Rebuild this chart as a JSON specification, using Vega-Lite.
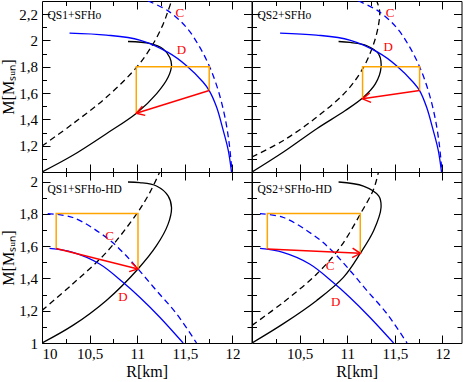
{
"$schema": "https://vega.github.io/schema/vega-lite/v6.json",
"padding": {"left": 0, "top": 0, "right": 1, "bottom": 2},
"spacing": 0,
"bounds": "flush",
"columns": 2,
"config": {
  "view": {"stroke": "black", "strokeWidth": 1},
  "axis": {"labelFont": "Liberation Serif", "labelFontSize": 15, "labelColor": "black", "titleFont": "Liberation Serif", "titleFontSize": 16, "titleFontWeight": "normal", "titleColor": "black", "tickColor": "black", "tickWidth": 1, "grid": false, "domain": false},
  "text": {"font": "Liberation Serif", "fontWeight": "normal"}
},
"datasets": {
  "curves": [
    {"p":"TL","c":"bs","i":0,"R":10.0,"M":1.0},{"p":"TL","c":"bs","i":1,"R":10.324,"M":1.127},{"p":"TL","c":"bs","i":2,"R":10.676,"M":1.291},{"p":"TL","c":"bs","i":3,"R":10.992,"M":1.447},{"p":"TL","c":"bs","i":4,"R":11.202,"M":1.594},{"p":"TL","c":"bs","i":5,"R":11.324,"M":1.72},{"p":"TL","c":"bs","i":6,"R":11.36,"M":1.808},{"p":"TL","c":"bs","i":7,"R":11.342,"M":1.871},{"p":"TL","c":"bs","i":8,"R":11.272,"M":1.935},{"p":"TL","c":"bs","i":9,"R":11.132,"M":1.977},{"p":"TL","c":"bs","i":10,"R":10.903,"M":1.992},
    {"p":"TL","c":"bd","i":0,"R":10.0,"M":1.197},{"p":"TL","c":"bd","i":1,"R":10.324,"M":1.367},{"p":"TL","c":"bd","i":2,"R":10.676,"M":1.568},{"p":"TL","c":"bd","i":3,"R":10.992,"M":1.795},{"p":"TL","c":"bd","i":4,"R":11.166,"M":1.973},{"p":"TL","c":"bd","i":5,"R":11.272,"M":2.124},{"p":"TL","c":"bd","i":6,"R":11.324,"M":2.225},{"p":"TL","c":"bd","i":7,"R":11.36,"M":2.3},
    {"p":"TL","c":"ls","i":0,"R":10.289,"M":2.056},{"p":"TL","c":"ls","i":1,"R":10.676,"M":2.041},{"p":"TL","c":"ls","i":2,"R":11.026,"M":2.003},{"p":"TL","c":"ls","i":3,"R":11.324,"M":1.909},{"p":"TL","c":"ls","i":4,"R":11.518,"M":1.808},{"p":"TL","c":"ls","i":5,"R":11.693,"M":1.682},{"p":"TL","c":"ls","i":6,"R":11.756,"M":1.619},{"p":"TL","c":"ls","i":7,"R":11.834,"M":1.492},{"p":"TL","c":"ls","i":8,"R":11.903,"M":1.316},{"p":"TL","c":"ls","i":9,"R":11.956,"M":1.164},{"p":"TL","c":"ls","i":10,"R":11.99,"M":1.0},
    {"p":"TL","c":"ld","i":0,"R":11.114,"M":2.3},{"p":"TL","c":"ld","i":1,"R":11.324,"M":2.225},{"p":"TL","c":"ld","i":2,"R":11.518,"M":2.098},{"p":"TL","c":"ld","i":3,"R":11.658,"M":1.947},{"p":"TL","c":"ld","i":4,"R":11.763,"M":1.795},{"p":"TL","c":"ld","i":5,"R":11.851,"M":1.619},{"p":"TL","c":"ld","i":6,"R":11.921,"M":1.417},{"p":"TL","c":"ld","i":7,"R":11.966,"M":1.215},{"p":"TL","c":"ld","i":8,"R":11.995,"M":1.0},
    {"p":"TL","c":"or","i":0,"R":10.99,"M":1.447},{"p":"TL","c":"or","i":1,"R":10.99,"M":1.8},{"p":"TL","c":"or","i":2,"R":11.756,"M":1.8},{"p":"TL","c":"or","i":3,"R":11.756,"M":1.619},

    {"p":"TR","c":"bs","i":0,"R":10.0,"M":1.0},{"p":"TR","c":"bs","i":1,"R":10.33,"M":1.152},{"p":"TR","c":"bs","i":2,"R":10.68,"M":1.329},{"p":"TR","c":"bs","i":3,"R":10.98,"M":1.467},{"p":"TR","c":"bs","i":4,"R":11.17,"M":1.568},{"p":"TR","c":"bs","i":5,"R":11.295,"M":1.67},{"p":"TR","c":"bs","i":6,"R":11.355,"M":1.795},{"p":"TR","c":"bs","i":7,"R":11.33,"M":1.897},{"p":"TR","c":"bs","i":8,"R":11.207,"M":1.96},{"p":"TR","c":"bs","i":9,"R":11.03,"M":1.985},{"p":"TR","c":"bs","i":10,"R":10.909,"M":1.992},
    {"p":"TR","c":"bd","i":0,"R":10.0,"M":1.114},{"p":"TR","c":"bd","i":1,"R":10.33,"M":1.24},{"p":"TR","c":"bd","i":2,"R":10.68,"M":1.417},{"p":"TR","c":"bd","i":3,"R":10.997,"M":1.619},{"p":"TR","c":"bd","i":4,"R":11.17,"M":1.795},{"p":"TR","c":"bd","i":5,"R":11.277,"M":1.973},{"p":"TR","c":"bd","i":6,"R":11.33,"M":2.124},{"p":"TR","c":"bd","i":7,"R":11.34,"M":2.225},{"p":"TR","c":"bd","i":8,"R":11.31,"M":2.3},
    {"p":"TR","c":"ls","i":0,"R":10.295,"M":2.056},{"p":"TR","c":"ls","i":1,"R":10.676,"M":2.041},{"p":"TR","c":"ls","i":2,"R":11.026,"M":2.003},{"p":"TR","c":"ls","i":3,"R":11.324,"M":1.909},{"p":"TR","c":"ls","i":4,"R":11.518,"M":1.808},{"p":"TR","c":"ls","i":5,"R":11.693,"M":1.682},{"p":"TR","c":"ls","i":6,"R":11.76,"M":1.619},{"p":"TR","c":"ls","i":7,"R":11.834,"M":1.492},{"p":"TR","c":"ls","i":8,"R":11.903,"M":1.316},{"p":"TR","c":"ls","i":9,"R":11.956,"M":1.164},{"p":"TR","c":"ls","i":10,"R":11.99,"M":1.0},
    {"p":"TR","c":"ld","i":0,"R":11.118,"M":2.3},{"p":"TR","c":"ld","i":1,"R":11.324,"M":2.225},{"p":"TR","c":"ld","i":2,"R":11.518,"M":2.098},{"p":"TR","c":"ld","i":3,"R":11.658,"M":1.947},{"p":"TR","c":"ld","i":4,"R":11.763,"M":1.795},{"p":"TR","c":"ld","i":5,"R":11.851,"M":1.619},{"p":"TR","c":"ld","i":6,"R":11.921,"M":1.417},{"p":"TR","c":"ld","i":7,"R":11.966,"M":1.215},{"p":"TR","c":"ld","i":8,"R":11.995,"M":1.0},
    {"p":"TR","c":"or","i":0,"R":11.161,"M":1.556},{"p":"TR","c":"or","i":1,"R":11.161,"M":1.8},{"p":"TR","c":"or","i":2,"R":11.76,"M":1.8},{"p":"TR","c":"or","i":3,"R":11.76,"M":1.619},

    {"p":"BL","c":"bs","i":0,"R":10.0,"M":1.0},{"p":"BL","c":"bs","i":1,"R":10.324,"M":1.109},{"p":"BL","c":"bs","i":2,"R":10.676,"M":1.264},{"p":"BL","c":"bs","i":3,"R":11.008,"M":1.459},{"p":"BL","c":"bs","i":4,"R":11.202,"M":1.603},{"p":"BL","c":"bs","i":5,"R":11.324,"M":1.737},{"p":"BL","c":"bs","i":6,"R":11.36,"M":1.84},{"p":"BL","c":"bs","i":7,"R":11.324,"M":1.912},{"p":"BL","c":"bs","i":8,"R":11.202,"M":1.973},{"p":"BL","c":"bs","i":9,"R":11.026,"M":1.994},{"p":"BL","c":"bs","i":10,"R":10.903,"M":1.998},
    {"p":"BL","c":"bd","i":0,"R":10.0,"M":1.202},{"p":"BL","c":"bd","i":1,"R":10.324,"M":1.367},{"p":"BL","c":"bd","i":2,"R":10.676,"M":1.562},{"p":"BL","c":"bd","i":3,"R":10.992,"M":1.799},{"p":"BL","c":"bd","i":4,"R":11.132,"M":1.932},{"p":"BL","c":"bd","i":5,"R":11.24,"M":2.065},
    {"p":"BL","c":"ls","i":0,"R":10.079,"M":1.586},{"p":"BL","c":"ls","i":1,"R":10.324,"M":1.562},{"p":"BL","c":"ls","i":2,"R":10.605,"M":1.49},{"p":"BL","c":"ls","i":3,"R":10.85,"M":1.377},{"p":"BL","c":"ls","i":4,"R":11.026,"M":1.284},{"p":"BL","c":"ls","i":5,"R":11.237,"M":1.16},{"p":"BL","c":"ls","i":6,"R":11.482,"M":1.0},
    {"p":"BL","c":"ld","i":0,"R":10.06,"M":1.802},{"p":"BL","c":"ld","i":1,"R":10.324,"M":1.778},{"p":"BL","c":"ld","i":2,"R":10.676,"M":1.654},{"p":"BL","c":"ld","i":3,"R":10.85,"M":1.562},{"p":"BL","c":"ld","i":4,"R":11.008,"M":1.459},{"p":"BL","c":"ld","i":5,"R":11.202,"M":1.325},{"p":"BL","c":"ld","i":6,"R":11.413,"M":1.181},{"p":"BL","c":"ld","i":7,"R":11.623,"M":1.0},
    {"p":"BL","c":"or","i":0,"R":10.149,"M":1.586},{"p":"BL","c":"or","i":1,"R":10.149,"M":1.802},{"p":"BL","c":"or","i":2,"R":11.008,"M":1.802},{"p":"BL","c":"or","i":3,"R":11.008,"M":1.459},

    {"p":"BR","c":"bs","i":0,"R":10.0,"M":1.0},{"p":"BR","c":"bs","i":1,"R":10.33,"M":1.12},{"p":"BR","c":"bs","i":2,"R":10.68,"M":1.264},{"p":"BR","c":"bs","i":3,"R":10.96,"M":1.407},{"p":"BR","c":"bs","i":4,"R":11.137,"M":1.556},{"p":"BR","c":"bs","i":5,"R":11.277,"M":1.696},{"p":"BR","c":"bs","i":6,"R":11.355,"M":1.84},{"p":"BR","c":"bs","i":7,"R":11.33,"M":1.912},{"p":"BR","c":"bs","i":8,"R":11.17,"M":1.973},{"p":"BR","c":"bs","i":9,"R":10.909,"M":1.998},
    {"p":"BR","c":"bd","i":0,"R":10.0,"M":1.109},{"p":"BR","c":"bd","i":1,"R":10.33,"M":1.253},{"p":"BR","c":"bd","i":2,"R":10.68,"M":1.428},{"p":"BR","c":"bd","i":3,"R":10.926,"M":1.593},{"p":"BR","c":"bd","i":4,"R":11.137,"M":1.799},{"p":"BR","c":"bd","i":5,"R":11.277,"M":1.953},{"p":"BR","c":"bd","i":6,"R":11.33,"M":2.065},
    {"p":"BR","c":"ls","i":0,"R":10.084,"M":1.586},{"p":"BR","c":"ls","i":1,"R":10.324,"M":1.562},{"p":"BR","c":"ls","i":2,"R":10.605,"M":1.49},{"p":"BR","c":"ls","i":3,"R":10.85,"M":1.377},{"p":"BR","c":"ls","i":4,"R":11.026,"M":1.284},{"p":"BR","c":"ls","i":5,"R":11.237,"M":1.16},{"p":"BR","c":"ls","i":6,"R":11.487,"M":1.0},
    {"p":"BR","c":"ld","i":0,"R":10.084,"M":1.802},{"p":"BR","c":"ld","i":1,"R":10.33,"M":1.778},{"p":"BR","c":"ld","i":2,"R":10.68,"M":1.654},{"p":"BR","c":"ld","i":3,"R":10.856,"M":1.562},{"p":"BR","c":"ld","i":4,"R":11.03,"M":1.449},{"p":"BR","c":"ld","i":5,"R":11.207,"M":1.325},{"p":"BR","c":"ld","i":6,"R":11.418,"M":1.181},{"p":"BR","c":"ld","i":7,"R":11.628,"M":1.0},
    {"p":"BR","c":"or","i":0,"R":10.161,"M":1.583},{"p":"BR","c":"or","i":1,"R":10.161,"M":1.802},{"p":"BR","c":"or","i":2,"R":11.137,"M":1.802},{"p":"BR","c":"or","i":3,"R":11.137,"M":1.556}
  ],
  "arrows": [
    {"p":"TL","i":0,"R":11.756,"M":1.619},{"p":"TL","i":1,"R":10.99,"M":1.447},
    {"p":"TR","i":0,"R":11.76,"M":1.619},{"p":"TR","i":1,"R":11.161,"M":1.556},
    {"p":"BL","i":0,"R":10.149,"M":1.586},{"p":"BL","i":1,"R":11.008,"M":1.459},
    {"p":"BR","i":0,"R":10.161,"M":1.583},{"p":"BR","i":1,"R":11.137,"M":1.556}
  ],
  "notes": [
    {"p":"TL","k":"cd","t":"C","R":11.447,"M":2.205},{"p":"TL","k":"cd","t":"D","R":11.465,"M":1.927},{"p":"TL","k":"title","t":"QS1+SFHo","R":10.058,"M":2.183},
    {"p":"TR","k":"cd","t":"C","R":11.45,"M":2.205},{"p":"TR","k":"cd","t":"D","R":11.43,"M":1.952},{"p":"TR","k":"title","t":"QS2+SFHo","R":10.058,"M":2.183},
    {"p":"BL","k":"cd","t":"C","R":10.71,"M":1.665},{"p":"BL","k":"cd","t":"D","R":10.85,"M":1.288},{"p":"BL","k":"title","t":"QS1+SFHo-HD","R":10.058,"M":1.949},
    {"p":"BR","k":"cd","t":"C","R":10.82,"M":1.48},{"p":"BR","k":"cd","t":"D","R":10.88,"M":1.257},{"p":"BR","k":"title","t":"QS2+SFHo-HD","R":10.058,"M":1.949}
  ]
},
"concat": [
  {"width": 209.5, "height": 171,
   "resolve": {"axis": {"x": "independent", "y": "independent"}},
   "layer": [
    {"data": {"name": "curves"}, "transform": [{"filter": "datum.p=='TL' && datum.c=='bs'"}],
     "mark": {"type": "line", "color": "black", "strokeWidth": 1.3, "interpolate": "catmull-rom", "clip": true},
     "encoding": {"order": {"field": "i"},
      "x": {"field": "R", "type": "quantitative", "scale": {"domain": [10, 12.2], "nice": false, "zero": false}, "axis": {"orient": "bottom", "values": [10.5, 11, 11.5, 12], "tickSize": -8, "labels": false, "title": null}},
      "y": {"field": "M", "type": "quantitative", "scale": {"domain": [1, 2.3], "nice": false, "zero": false}, "axis": {"orient": "left", "values": [1.2, 1.4, 1.6, 1.8, 2, 2.2], "tickSize": -8, "labelPadding": 12.5, "labelExpr": "replace(format(datum.value,'~g'),'.',',')", "title": "M[Mₛᵤₙ]", "titlePadding": 2}}}},
    {"data": {"name": "curves"}, "transform": [{"filter": "datum.p=='TL' && datum.c=='bd'"}],
     "mark": {"type": "line", "color": "black", "strokeWidth": 1.3, "strokeDash": [6, 4], "interpolate": "catmull-rom", "clip": true},
     "encoding": {"order": {"field": "i"},
      "x": {"field": "R", "type": "quantitative", "scale": {"domain": [10, 12.2], "nice": false, "zero": false}, "axis": {"orient": "bottom", "values": [10.25, 10.75, 11.25, 11.75], "tickSize": -4.5, "labels": false, "title": null}},
      "y": {"field": "M", "type": "quantitative", "scale": {"domain": [1, 2.3], "nice": false, "zero": false}, "axis": {"orient": "left", "values": [1.1, 1.3, 1.5, 1.7, 1.9, 2.1], "tickSize": -4.5, "labels": false, "title": null}}}},
    {"data": {"name": "curves"}, "transform": [{"filter": "datum.p=='TL' && datum.c=='ls'"}],
     "mark": {"type": "line", "color": "blue", "strokeWidth": 1.3, "interpolate": "catmull-rom", "clip": true},
     "encoding": {"order": {"field": "i"},
      "x": {"field": "R", "type": "quantitative", "scale": {"domain": [10, 12.2], "nice": false, "zero": false}, "axis": {"orient": "top", "values": [10.5, 11, 11.5, 12], "tickSize": -8, "labels": false, "title": null}},
      "y": {"field": "M", "type": "quantitative", "scale": {"domain": [1, 2.3], "nice": false, "zero": false}, "axis": {"orient": "right", "values": [1.2, 1.4, 1.6, 1.8, 2, 2.2], "tickSize": -8, "labels": false, "title": null}}}},
    {"data": {"name": "curves"}, "transform": [{"filter": "datum.p=='TL' && datum.c=='ld'"}],
     "mark": {"type": "line", "color": "blue", "strokeWidth": 1.3, "strokeDash": [6, 4], "interpolate": "catmull-rom", "clip": true},
     "encoding": {"order": {"field": "i"},
      "x": {"field": "R", "type": "quantitative", "scale": {"domain": [10, 12.2], "nice": false, "zero": false}, "axis": {"orient": "top", "values": [10.25, 10.75, 11.25, 11.75], "tickSize": -4.5, "labels": false, "title": null}},
      "y": {"field": "M", "type": "quantitative", "scale": {"domain": [1, 2.3], "nice": false, "zero": false}, "axis": {"orient": "right", "values": [1.1, 1.3, 1.5, 1.7, 1.9, 2.1], "tickSize": -4.5, "labels": false, "title": null}}}},
    {"data": {"name": "curves"}, "transform": [{"filter": "datum.p=='TL' && datum.c=='or'"}],
     "mark": {"type": "line", "color": "orange", "strokeWidth": 1.5, "clip": true},
     "encoding": {"order": {"field": "i"},
      "x": {"field": "R", "type": "quantitative", "scale": {"domain": [10, 12.2], "nice": false, "zero": false}, "axis": null},
      "y": {"field": "M", "type": "quantitative", "scale": {"domain": [1, 2.3], "nice": false, "zero": false}, "axis": null}}},
    {"data": {"name": "arrows"}, "transform": [{"filter": "datum.p=='TL'"}],
     "mark": {"type": "line", "color": "red", "strokeWidth": 1.5},
     "encoding": {"order": {"field": "i"},
      "x": {"field": "R", "type": "quantitative", "scale": {"domain": [10, 12.2], "nice": false, "zero": false}, "axis": null},
      "y": {"field": "M", "type": "quantitative", "scale": {"domain": [1, 2.3], "nice": false, "zero": false}, "axis": null}}},
    {"data": {"name": "arrows"}, "transform": [{"filter": "datum.p=='TL' && datum.i==1"}],
     "mark": {"type": "point", "shape": "M-1,-0.6L0,0L-1,0.6", "filled": false, "color": "red", "strokeWidth": 1.5, "size": 250, "angle": 162.6, "opacity": 1},
     "encoding": {
      "x": {"field": "R", "type": "quantitative", "scale": {"domain": [10, 12.2], "nice": false, "zero": false}, "axis": null},
      "y": {"field": "M", "type": "quantitative", "scale": {"domain": [1, 2.3], "nice": false, "zero": false}, "axis": null}}},
    {"data": {"name": "notes"}, "transform": [{"filter": "datum.p=='TL' && datum.k=='cd'"}],
     "mark": {"type": "text", "color": "red", "font": "Liberation Serif", "fontSize": 13, "align": "center", "baseline": "middle"},
     "encoding": {"text": {"field": "t"},
      "x": {"field": "R", "type": "quantitative", "scale": {"domain": [10, 12.2], "nice": false, "zero": false}, "axis": null},
      "y": {"field": "M", "type": "quantitative", "scale": {"domain": [1, 2.3], "nice": false, "zero": false}, "axis": null}}},
    {"data": {"name": "notes"}, "transform": [{"filter": "datum.p=='TL' && datum.k=='title'"}],
     "mark": {"type": "text", "color": "black", "font": "Liberation Serif", "fontWeight": "normal", "fontSize": 11.5, "align": "left", "baseline": "middle"},
     "encoding": {"text": {"field": "t"},
      "x": {"field": "R", "type": "quantitative", "scale": {"domain": [10, 12.2], "nice": false, "zero": false}, "axis": null},
      "y": {"field": "M", "type": "quantitative", "scale": {"domain": [1, 2.3], "nice": false, "zero": false}, "axis": null}}}
   ]},
  {"width": 209.5, "height": 171,
   "resolve": {"axis": {"x": "independent", "y": "independent"}},
   "layer": [
    {"data": {"name": "curves"}, "transform": [{"filter": "datum.p=='TR' && datum.c=='bs'"}],
     "mark": {"type": "line", "color": "black", "strokeWidth": 1.3, "interpolate": "catmull-rom", "clip": true},
     "encoding": {"order": {"field": "i"},
      "x": {"field": "R", "type": "quantitative", "scale": {"domain": [10, 12.2], "nice": false, "zero": false}, "axis": {"orient": "bottom", "values": [10.5, 11, 11.5, 12], "tickSize": -8, "labels": false, "title": null}},
      "y": {"field": "M", "type": "quantitative", "scale": {"domain": [1, 2.3], "nice": false, "zero": false}, "axis": {"orient": "left", "values": [1.2, 1.4, 1.6, 1.8, 2, 2.2], "tickSize": -8, "labels": false, "title": null}}}},
    {"data": {"name": "curves"}, "transform": [{"filter": "datum.p=='TR' && datum.c=='bd'"}],
     "mark": {"type": "line", "color": "black", "strokeWidth": 1.3, "strokeDash": [6, 4], "interpolate": "catmull-rom", "clip": true},
     "encoding": {"order": {"field": "i"},
      "x": {"field": "R", "type": "quantitative", "scale": {"domain": [10, 12.2], "nice": false, "zero": false}, "axis": {"orient": "bottom", "values": [10.25, 10.75, 11.25, 11.75], "tickSize": -4.5, "labels": false, "title": null}},
      "y": {"field": "M", "type": "quantitative", "scale": {"domain": [1, 2.3], "nice": false, "zero": false}, "axis": {"orient": "left", "values": [1.1, 1.3, 1.5, 1.7, 1.9, 2.1], "tickSize": -4.5, "labels": false, "title": null}}}},
    {"data": {"name": "curves"}, "transform": [{"filter": "datum.p=='TR' && datum.c=='ls'"}],
     "mark": {"type": "line", "color": "blue", "strokeWidth": 1.3, "interpolate": "catmull-rom", "clip": true},
     "encoding": {"order": {"field": "i"},
      "x": {"field": "R", "type": "quantitative", "scale": {"domain": [10, 12.2], "nice": false, "zero": false}, "axis": {"orient": "top", "values": [10.5, 11, 11.5, 12], "tickSize": -8, "labels": false, "title": null}},
      "y": {"field": "M", "type": "quantitative", "scale": {"domain": [1, 2.3], "nice": false, "zero": false}, "axis": {"orient": "right", "values": [1.2, 1.4, 1.6, 1.8, 2, 2.2], "tickSize": -8, "labels": false, "title": null}}}},
    {"data": {"name": "curves"}, "transform": [{"filter": "datum.p=='TR' && datum.c=='ld'"}],
     "mark": {"type": "line", "color": "blue", "strokeWidth": 1.3, "strokeDash": [6, 4], "interpolate": "catmull-rom", "clip": true},
     "encoding": {"order": {"field": "i"},
      "x": {"field": "R", "type": "quantitative", "scale": {"domain": [10, 12.2], "nice": false, "zero": false}, "axis": {"orient": "top", "values": [10.25, 10.75, 11.25, 11.75], "tickSize": -4.5, "labels": false, "title": null}},
      "y": {"field": "M", "type": "quantitative", "scale": {"domain": [1, 2.3], "nice": false, "zero": false}, "axis": {"orient": "right", "values": [1.1, 1.3, 1.5, 1.7, 1.9, 2.1], "tickSize": -4.5, "labels": false, "title": null}}}},
    {"data": {"name": "curves"}, "transform": [{"filter": "datum.p=='TR' && datum.c=='or'"}],
     "mark": {"type": "line", "color": "orange", "strokeWidth": 1.5, "clip": true},
     "encoding": {"order": {"field": "i"},
      "x": {"field": "R", "type": "quantitative", "scale": {"domain": [10, 12.2], "nice": false, "zero": false}, "axis": null},
      "y": {"field": "M", "type": "quantitative", "scale": {"domain": [1, 2.3], "nice": false, "zero": false}, "axis": null}}},
    {"data": {"name": "arrows"}, "transform": [{"filter": "datum.p=='TR'"}],
     "mark": {"type": "line", "color": "red", "strokeWidth": 1.5},
     "encoding": {"order": {"field": "i"},
      "x": {"field": "R", "type": "quantitative", "scale": {"domain": [10, 12.2], "nice": false, "zero": false}, "axis": null},
      "y": {"field": "M", "type": "quantitative", "scale": {"domain": [1, 2.3], "nice": false, "zero": false}, "axis": null}}},
    {"data": {"name": "arrows"}, "transform": [{"filter": "datum.p=='TR' && datum.i==1"}],
     "mark": {"type": "point", "shape": "M-1,-0.6L0,0L-1,0.6", "filled": false, "color": "red", "strokeWidth": 1.5, "size": 250, "angle": 171.7, "opacity": 1},
     "encoding": {
      "x": {"field": "R", "type": "quantitative", "scale": {"domain": [10, 12.2], "nice": false, "zero": false}, "axis": null},
      "y": {"field": "M", "type": "quantitative", "scale": {"domain": [1, 2.3], "nice": false, "zero": false}, "axis": null}}},
    {"data": {"name": "notes"}, "transform": [{"filter": "datum.p=='TR' && datum.k=='cd'"}],
     "mark": {"type": "text", "color": "red", "font": "Liberation Serif", "fontSize": 13, "align": "center", "baseline": "middle"},
     "encoding": {"text": {"field": "t"},
      "x": {"field": "R", "type": "quantitative", "scale": {"domain": [10, 12.2], "nice": false, "zero": false}, "axis": null},
      "y": {"field": "M", "type": "quantitative", "scale": {"domain": [1, 2.3], "nice": false, "zero": false}, "axis": null}}},
    {"data": {"name": "notes"}, "transform": [{"filter": "datum.p=='TR' && datum.k=='title'"}],
     "mark": {"type": "text", "color": "black", "font": "Liberation Serif", "fontWeight": "normal", "fontSize": 11.5, "align": "left", "baseline": "middle"},
     "encoding": {"text": {"field": "t"},
      "x": {"field": "R", "type": "quantitative", "scale": {"domain": [10, 12.2], "nice": false, "zero": false}, "axis": null},
      "y": {"field": "M", "type": "quantitative", "scale": {"domain": [1, 2.3], "nice": false, "zero": false}, "axis": null}}}
   ]},
  {"width": 209.5, "height": 171,
   "resolve": {"axis": {"x": "independent", "y": "independent"}},
   "layer": [
    {"data": {"name": "curves"}, "transform": [{"filter": "datum.p=='BL' && datum.c=='bs'"}],
     "mark": {"type": "line", "color": "black", "strokeWidth": 1.3, "interpolate": "catmull-rom", "clip": true},
     "encoding": {"order": {"field": "i"},
      "x": {"field": "R", "type": "quantitative", "scale": {"domain": [10, 12.2], "nice": false, "zero": false}, "axis": {"orient": "bottom", "values": [10, 10.5, 11, 11.5, 12], "tickSize": -8, "labelPadding": 11, "labelExpr": "replace(format(datum.value,'~g'),'.',',')", "title": "R[km]", "titlePadding": 2}},
      "y": {"field": "M", "type": "quantitative", "scale": {"domain": [1, 2.06], "nice": false, "zero": false}, "axis": {"orient": "left", "values": [1, 1.2, 1.4, 1.6, 1.8, 2], "tickSize": -8, "labelPadding": 12.5, "labelExpr": "replace(format(datum.value,'~g'),'.',',')", "title": "M[Mₛᵤₙ]", "titlePadding": 2}}}},
    {"data": {"name": "curves"}, "transform": [{"filter": "datum.p=='BL' && datum.c=='bd'"}],
     "mark": {"type": "line", "color": "black", "strokeWidth": 1.3, "strokeDash": [6, 4], "interpolate": "catmull-rom", "clip": true},
     "encoding": {"order": {"field": "i"},
      "x": {"field": "R", "type": "quantitative", "scale": {"domain": [10, 12.2], "nice": false, "zero": false}, "axis": {"orient": "bottom", "values": [10.25, 10.75, 11.25, 11.75], "tickSize": -4.5, "labels": false, "title": null}},
      "y": {"field": "M", "type": "quantitative", "scale": {"domain": [1, 2.06], "nice": false, "zero": false}, "axis": {"orient": "left", "values": [1.1, 1.3, 1.5, 1.7, 1.9], "tickSize": -4.5, "labels": false, "title": null}}}},
    {"data": {"name": "curves"}, "transform": [{"filter": "datum.p=='BL' && datum.c=='ls'"}],
     "mark": {"type": "line", "color": "blue", "strokeWidth": 1.3, "interpolate": "catmull-rom", "clip": true},
     "encoding": {"order": {"field": "i"},
      "x": {"field": "R", "type": "quantitative", "scale": {"domain": [10, 12.2], "nice": false, "zero": false}, "axis": {"orient": "top", "values": [10.5, 11, 11.5, 12], "tickSize": -8, "labels": false, "title": null}},
      "y": {"field": "M", "type": "quantitative", "scale": {"domain": [1, 2.06], "nice": false, "zero": false}, "axis": {"orient": "right", "values": [1.2, 1.4, 1.6, 1.8, 2], "tickSize": -8, "labels": false, "title": null}}}},
    {"data": {"name": "curves"}, "transform": [{"filter": "datum.p=='BL' && datum.c=='ld'"}],
     "mark": {"type": "line", "color": "blue", "strokeWidth": 1.3, "strokeDash": [6, 4], "interpolate": "catmull-rom", "clip": true},
     "encoding": {"order": {"field": "i"},
      "x": {"field": "R", "type": "quantitative", "scale": {"domain": [10, 12.2], "nice": false, "zero": false}, "axis": {"orient": "top", "values": [10.25, 10.75, 11.25, 11.75], "tickSize": -4.5, "labels": false, "title": null}},
      "y": {"field": "M", "type": "quantitative", "scale": {"domain": [1, 2.06], "nice": false, "zero": false}, "axis": {"orient": "right", "values": [1.1, 1.3, 1.5, 1.7, 1.9], "tickSize": -4.5, "labels": false, "title": null}}}},
    {"data": {"name": "curves"}, "transform": [{"filter": "datum.p=='BL' && datum.c=='or'"}],
     "mark": {"type": "line", "color": "orange", "strokeWidth": 1.5, "clip": true},
     "encoding": {"order": {"field": "i"},
      "x": {"field": "R", "type": "quantitative", "scale": {"domain": [10, 12.2], "nice": false, "zero": false}, "axis": null},
      "y": {"field": "M", "type": "quantitative", "scale": {"domain": [1, 2.06], "nice": false, "zero": false}, "axis": null}}},
    {"data": {"name": "arrows"}, "transform": [{"filter": "datum.p=='BL'"}],
     "mark": {"type": "line", "color": "red", "strokeWidth": 1.5},
     "encoding": {"order": {"field": "i"},
      "x": {"field": "R", "type": "quantitative", "scale": {"domain": [10, 12.2], "nice": false, "zero": false}, "axis": null},
      "y": {"field": "M", "type": "quantitative", "scale": {"domain": [1, 2.06], "nice": false, "zero": false}, "axis": null}}},
    {"data": {"name": "arrows"}, "transform": [{"filter": "datum.p=='BL' && datum.i==1"}],
     "mark": {"type": "point", "shape": "M-1,-0.6L0,0L-1,0.6", "filled": false, "color": "red", "strokeWidth": 1.5, "size": 250, "angle": 14.2, "opacity": 1},
     "encoding": {
      "x": {"field": "R", "type": "quantitative", "scale": {"domain": [10, 12.2], "nice": false, "zero": false}, "axis": null},
      "y": {"field": "M", "type": "quantitative", "scale": {"domain": [1, 2.06], "nice": false, "zero": false}, "axis": null}}},
    {"data": {"name": "notes"}, "transform": [{"filter": "datum.p=='BL' && datum.k=='cd'"}],
     "mark": {"type": "text", "color": "red", "font": "Liberation Serif", "fontSize": 13, "align": "center", "baseline": "middle"},
     "encoding": {"text": {"field": "t"},
      "x": {"field": "R", "type": "quantitative", "scale": {"domain": [10, 12.2], "nice": false, "zero": false}, "axis": null},
      "y": {"field": "M", "type": "quantitative", "scale": {"domain": [1, 2.06], "nice": false, "zero": false}, "axis": null}}},
    {"data": {"name": "notes"}, "transform": [{"filter": "datum.p=='BL' && datum.k=='title'"}],
     "mark": {"type": "text", "color": "black", "font": "Liberation Serif", "fontWeight": "normal", "fontSize": 11.5, "align": "left", "baseline": "middle"},
     "encoding": {"text": {"field": "t"},
      "x": {"field": "R", "type": "quantitative", "scale": {"domain": [10, 12.2], "nice": false, "zero": false}, "axis": null},
      "y": {"field": "M", "type": "quantitative", "scale": {"domain": [1, 2.06], "nice": false, "zero": false}, "axis": null}}}
   ]},
  {"width": 209.5, "height": 171,
   "resolve": {"axis": {"x": "independent", "y": "independent"}},
   "layer": [
    {"data": {"name": "curves"}, "transform": [{"filter": "datum.p=='BR' && datum.c=='bs'"}],
     "mark": {"type": "line", "color": "black", "strokeWidth": 1.3, "interpolate": "catmull-rom", "clip": true},
     "encoding": {"order": {"field": "i"},
      "x": {"field": "R", "type": "quantitative", "scale": {"domain": [10, 12.2], "nice": false, "zero": false}, "axis": {"orient": "bottom", "values": [10.5, 11, 11.5, 12], "tickSize": -8, "labelPadding": 11, "labelExpr": "replace(format(datum.value,'~g'),'.',',')", "title": "R[km]", "titlePadding": 2}},
      "y": {"field": "M", "type": "quantitative", "scale": {"domain": [1, 2.06], "nice": false, "zero": false}, "axis": {"orient": "left", "values": [1.2, 1.4, 1.6, 1.8, 2], "tickSize": -8, "labels": false, "title": null}}}},
    {"data": {"name": "curves"}, "transform": [{"filter": "datum.p=='BR' && datum.c=='bd'"}],
     "mark": {"type": "line", "color": "black", "strokeWidth": 1.3, "strokeDash": [6, 4], "interpolate": "catmull-rom", "clip": true},
     "encoding": {"order": {"field": "i"},
      "x": {"field": "R", "type": "quantitative", "scale": {"domain": [10, 12.2], "nice": false, "zero": false}, "axis": {"orient": "bottom", "values": [10.25, 10.75, 11.25, 11.75], "tickSize": -4.5, "labels": false, "title": null}},
      "y": {"field": "M", "type": "quantitative", "scale": {"domain": [1, 2.06], "nice": false, "zero": false}, "axis": {"orient": "left", "values": [1.1, 1.3, 1.5, 1.7, 1.9], "tickSize": -4.5, "labels": false, "title": null}}}},
    {"data": {"name": "curves"}, "transform": [{"filter": "datum.p=='BR' && datum.c=='ls'"}],
     "mark": {"type": "line", "color": "blue", "strokeWidth": 1.3, "interpolate": "catmull-rom", "clip": true},
     "encoding": {"order": {"field": "i"},
      "x": {"field": "R", "type": "quantitative", "scale": {"domain": [10, 12.2], "nice": false, "zero": false}, "axis": {"orient": "top", "values": [10.5, 11, 11.5, 12], "tickSize": -8, "labels": false, "title": null}},
      "y": {"field": "M", "type": "quantitative", "scale": {"domain": [1, 2.06], "nice": false, "zero": false}, "axis": {"orient": "right", "values": [1.2, 1.4, 1.6, 1.8, 2], "tickSize": -8, "labels": false, "title": null}}}},
    {"data": {"name": "curves"}, "transform": [{"filter": "datum.p=='BR' && datum.c=='ld'"}],
     "mark": {"type": "line", "color": "blue", "strokeWidth": 1.3, "strokeDash": [6, 4], "interpolate": "catmull-rom", "clip": true},
     "encoding": {"order": {"field": "i"},
      "x": {"field": "R", "type": "quantitative", "scale": {"domain": [10, 12.2], "nice": false, "zero": false}, "axis": {"orient": "top", "values": [10.25, 10.75, 11.25, 11.75], "tickSize": -4.5, "labels": false, "title": null}},
      "y": {"field": "M", "type": "quantitative", "scale": {"domain": [1, 2.06], "nice": false, "zero": false}, "axis": {"orient": "right", "values": [1.1, 1.3, 1.5, 1.7, 1.9], "tickSize": -4.5, "labels": false, "title": null}}}},
    {"data": {"name": "curves"}, "transform": [{"filter": "datum.p=='BR' && datum.c=='or'"}],
     "mark": {"type": "line", "color": "orange", "strokeWidth": 1.5, "clip": true},
     "encoding": {"order": {"field": "i"},
      "x": {"field": "R", "type": "quantitative", "scale": {"domain": [10, 12.2], "nice": false, "zero": false}, "axis": null},
      "y": {"field": "M", "type": "quantitative", "scale": {"domain": [1, 2.06], "nice": false, "zero": false}, "axis": null}}},
    {"data": {"name": "arrows"}, "transform": [{"filter": "datum.p=='BR'"}],
     "mark": {"type": "line", "color": "red", "strokeWidth": 1.5},
     "encoding": {"order": {"field": "i"},
      "x": {"field": "R", "type": "quantitative", "scale": {"domain": [10, 12.2], "nice": false, "zero": false}, "axis": null},
      "y": {"field": "M", "type": "quantitative", "scale": {"domain": [1, 2.06], "nice": false, "zero": false}, "axis": null}}},
    {"data": {"name": "arrows"}, "transform": [{"filter": "datum.p=='BR' && datum.i==1"}],
     "mark": {"type": "point", "shape": "M-1,-0.6L0,0L-1,0.6", "filled": false, "color": "red", "strokeWidth": 1.5, "size": 250, "angle": 2.7, "opacity": 1},
     "encoding": {
      "x": {"field": "R", "type": "quantitative", "scale": {"domain": [10, 12.2], "nice": false, "zero": false}, "axis": null},
      "y": {"field": "M", "type": "quantitative", "scale": {"domain": [1, 2.06], "nice": false, "zero": false}, "axis": null}}},
    {"data": {"name": "notes"}, "transform": [{"filter": "datum.p=='BR' && datum.k=='cd'"}],
     "mark": {"type": "text", "color": "red", "font": "Liberation Serif", "fontSize": 13, "align": "center", "baseline": "middle"},
     "encoding": {"text": {"field": "t"},
      "x": {"field": "R", "type": "quantitative", "scale": {"domain": [10, 12.2], "nice": false, "zero": false}, "axis": null},
      "y": {"field": "M", "type": "quantitative", "scale": {"domain": [1, 2.06], "nice": false, "zero": false}, "axis": null}}},
    {"data": {"name": "notes"}, "transform": [{"filter": "datum.p=='BR' && datum.k=='title'"}],
     "mark": {"type": "text", "color": "black", "font": "Liberation Serif", "fontWeight": "normal", "fontSize": 11.5, "align": "left", "baseline": "middle"},
     "encoding": {"text": {"field": "t"},
      "x": {"field": "R", "type": "quantitative", "scale": {"domain": [10, 12.2], "nice": false, "zero": false}, "axis": null},
      "y": {"field": "M", "type": "quantitative", "scale": {"domain": [1, 2.06], "nice": false, "zero": false}, "axis": null}}}
   ]}
]
}
